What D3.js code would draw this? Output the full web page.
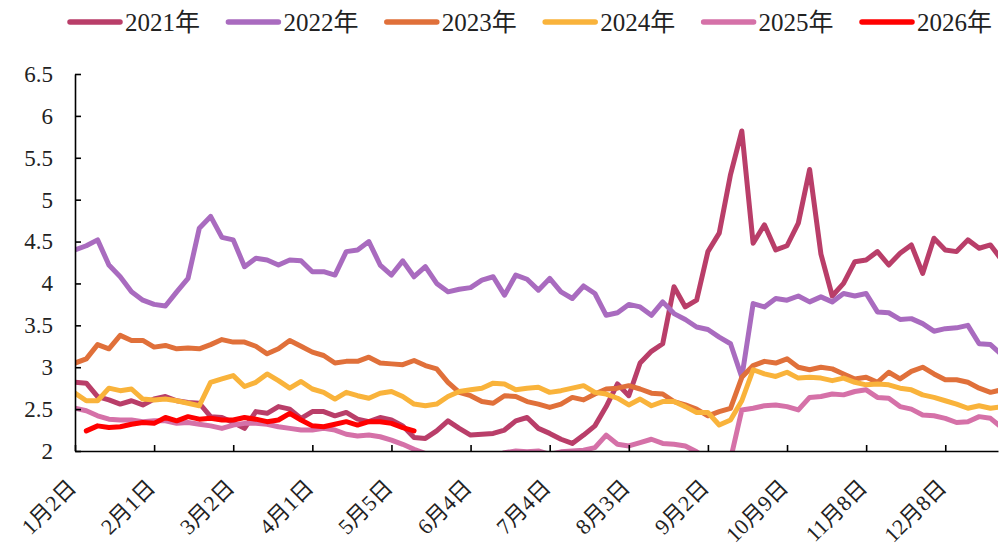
<!DOCTYPE html>
<html>
<head>
<meta charset="utf-8">
<script src="https://cdn.jsdelivr.net/npm/d3@7/dist/d3.min.js"></script>
<style>
  html, body { margin: 0; padding: 0; background: #ffffff; }
  #chart { width: 1002px; height: 550px; }
</style>
</head>
<body>
<div id="chart"></div>
<script>
// one value every `step` trading days, index 0 = 1月2日
const step = 3;
const totalDays = 245;

const tickDays = [0, 21, 42, 63, 84, 105, 126, 147, 168, 189, 210, 231];
const tickLabels = ["1月2日", "2月1日", "3月2日", "4月1日", "5月5日", "6月4日",
  "7月4日", "8月3日", "9月2日", "10月9日", "11月8日", "12月8日"];

const yTicks = [2, 2.5, 3, 3.5, 4, 4.5, 5, 5.5, 6, 6.5];

const seriesNames = ["2021年", "2022年", "2023年", "2024年", "2025年", "2026年"];
const seriesColors = ["#b93e69", "#a96bbf", "#e0703a", "#f9b33b", "#d571a8", "#ff0000"];

const v2021 = [
  2.82, 2.81, 2.65, 2.61, 2.56, 2.60, 2.55, 2.62, 2.65, 2.60,
  2.58, 2.57, 2.41, 2.40, 2.34, 2.27, 2.47, 2.45, 2.53, 2.50,
  2.39, 2.47, 2.47, 2.42, 2.46, 2.38, 2.35, 2.40, 2.37, 2.30,
  2.16, 2.15, 2.24, 2.36, 2.27, 2.19, 2.20, 2.21, 2.25, 2.36,
  2.40, 2.27, 2.21, 2.14, 2.09, 2.19, 2.30, 2.53, 2.80, 2.66,
  3.05, 3.19, 3.28, 3.96, 3.72, 3.80, 4.38, 4.60, 5.30, 5.82,
  4.48, 4.70, 4.40, 4.45, 4.72, 5.36, 4.35, 3.85, 4.00, 4.26,
  4.28, 4.38, 4.22, 4.36, 4.46, 4.12, 4.54, 4.40, 4.38, 4.52,
  4.42, 4.46, 4.28
];
const v2022 = [
  4.40, 4.45, 4.52, 4.22, 4.08, 3.90, 3.80, 3.75, 3.73, 3.90,
  4.06, 4.66, 4.80, 4.55, 4.52, 4.20, 4.30, 4.28, 4.22, 4.28,
  4.27, 4.14, 4.14, 4.10, 4.38, 4.40, 4.50, 4.22, 4.10, 4.27,
  4.08, 4.20, 4.00, 3.90, 3.93, 3.95, 4.04, 4.08, 3.86, 4.10,
  4.05, 3.92, 4.06, 3.90, 3.82, 3.97, 3.88, 3.62, 3.65, 3.75,
  3.72, 3.62, 3.78, 3.64, 3.57, 3.48, 3.45, 3.36, 3.28, 2.88,
  3.76, 3.72, 3.82, 3.80, 3.85, 3.78, 3.84, 3.78, 3.88, 3.85,
  3.88, 3.66, 3.65, 3.57, 3.58, 3.52, 3.43, 3.46, 3.47, 3.50,
  3.28, 3.27, 3.15
];
const v2023 = [
  3.05, 3.10, 3.27, 3.22, 3.38, 3.32, 3.32, 3.24, 3.26, 3.22,
  3.23, 3.22, 3.27, 3.33, 3.30, 3.30, 3.25, 3.16, 3.22, 3.32,
  3.25, 3.18, 3.14, 3.05, 3.07, 3.07, 3.12, 3.05, 3.04, 3.03,
  3.08, 3.02, 2.98, 2.82, 2.70, 2.66, 2.59, 2.57, 2.66, 2.65,
  2.59, 2.56, 2.52, 2.56, 2.64, 2.61, 2.68, 2.74, 2.75, 2.78,
  2.74, 2.69, 2.68, 2.59, 2.55, 2.50, 2.42, 2.47, 2.51, 2.88,
  3.02, 3.07, 3.05, 3.10, 3.00, 2.97, 3.00, 2.98, 2.92, 2.86,
  2.88, 2.82, 2.94, 2.86, 2.95, 3.00, 2.92, 2.85, 2.85, 2.82,
  2.75, 2.70, 2.73
];
const v2024 = [
  2.69, 2.60, 2.60, 2.75, 2.72, 2.74, 2.62, 2.61, 2.62, 2.60,
  2.57, 2.54, 2.82, 2.86, 2.90, 2.77, 2.82, 2.92, 2.84, 2.75,
  2.83, 2.74, 2.70, 2.62, 2.70, 2.66, 2.63, 2.69, 2.71, 2.65,
  2.56, 2.54, 2.56, 2.65, 2.71, 2.73, 2.75, 2.81, 2.80, 2.73,
  2.75, 2.76, 2.70, 2.72, 2.75, 2.78, 2.70, 2.68, 2.63, 2.55,
  2.62, 2.54, 2.59, 2.59, 2.53, 2.46, 2.46, 2.31, 2.37, 2.60,
  2.97, 2.92, 2.89, 2.94, 2.87, 2.88, 2.87, 2.84, 2.87, 2.82,
  2.79, 2.80, 2.79, 2.75, 2.73, 2.67, 2.64, 2.60, 2.56, 2.51,
  2.54, 2.51, 2.53
];
const v2025 = [
  2.51, 2.48, 2.42, 2.38, 2.37, 2.37, 2.35, 2.36, 2.36, 2.33,
  2.34, 2.32, 2.30, 2.27, 2.31, 2.33, 2.33, 2.32, 2.29, 2.27,
  2.25, 2.25, 2.27, 2.25, 2.20, 2.18, 2.19, 2.17, 2.13, 2.08,
  2.02, 1.97, 1.93, 1.90, 1.88, 1.90, 1.92, 1.93, 1.98, 2.00,
  1.99, 2.00, 1.96, 1.99, 2.00, 2.01, 2.04, 2.19, 2.08, 2.06,
  2.10, 2.14, 2.09, 2.08, 2.06, 1.99, 1.90, 1.88, 1.90, 2.49,
  2.51, 2.54, 2.55, 2.53, 2.49, 2.64, 2.65, 2.68, 2.67, 2.71,
  2.73, 2.64, 2.63, 2.53, 2.50, 2.43, 2.42, 2.39, 2.34, 2.35,
  2.41, 2.39, 2.28
];
const v2026 = [
  null, 2.24, 2.30, 2.28, 2.29, 2.32, 2.34, 2.33, 2.40, 2.36,
  2.41, 2.38, 2.39, 2.37, 2.37, 2.40, 2.38, 2.35, 2.37, 2.45,
  2.37, 2.30, 2.29, 2.32, 2.35, 2.31, 2.35, 2.35, 2.33, 2.28,
  2.24
];

const seriesValues = [v2021, v2022, v2023, v2024, v2025, v2026];

function drawChart(containerSelector) {
  const container = d3.select(containerSelector);
  const width = 1002;
  const height = 550;
  const margin = { top: 74, right: 2, bottom: 99, left: 75 };
  const fontSerif =
    "'Liberation Serif', 'Times New Roman', Times, 'DejaVu Serif', 'Noto Sans CJK SC', serif";

  const svg = container
    .append("svg")
    .attr("width", width)
    .attr("height", height)
    .attr("viewBox", `0 0 ${width} ${height}`)
    .style("background", "#ffffff");

  const x = d3
    .scaleLinear()
    .domain([0, totalDays])
    .range([margin.left, width - margin.right - 2]);

  const y = d3
    .scaleLinear()
    .domain([2, 6.5])
    .range([height - margin.bottom, margin.top]);

  svg
    .append("defs")
    .append("clipPath")
    .attr("id", "plotClip")
    .append("rect")
    .attr("x", x.range()[0])
    .attr("y", y.range()[1] - 10)
    .attr("width", x.range()[1] - x.range()[0])
    .attr("height", y.range()[0] - y.range()[1] + 10);

  const line = d3
    .line()
    .defined((d) => d != null)
    .x((d, i) => x(i * step))
    .y((d) => y(d));

  svg
    .append("g")
    .attr("clip-path", "url(#plotClip)")
    .selectAll("path")
    .data(seriesValues)
    .join("path")
    .attr("d", line)
    .attr("fill", "none")
    .attr("stroke", (d, i) => seriesColors[i])
    .attr("stroke-width", 5)
    .attr("stroke-linejoin", "round")
    .attr("stroke-linecap", "round");

  // ejes
  const yG = svg
    .append("g")
    .attr("transform", `translate(${x.range()[0]},0)`)
    .call(
      d3
        .axisLeft(y)
        .tickValues(yTicks)
        .tickSize(-6)
        .tickSizeOuter(0)
        .tickPadding(22)
        .tickFormat((d) => String(d)),
    );

  yG.selectAll("text")
    .style("font-family", fontSerif)
    .style("font-size", "23px")
    .attr("fill", "#222222");

  const xG = svg
    .append("g")
    .attr("transform", `translate(0,${y.range()[0]})`)
    .call(
      d3
        .axisBottom(x)
        .tickValues(tickDays)
        .tickSize(-6)
        .tickSizeOuter(0)
        .tickFormat((d, i) => tickLabels[i]),
    );

  xG.selectAll("text")
    .style("font-family", fontSerif)
    .style("font-size", "22px")
    .attr("fill", "#222222")
    .attr("text-anchor", "end")
    .attr("x", 0)
    .attr("y", 0)
    .attr("dy", 0)
    .attr("transform", "translate(2,38) rotate(-45)");

  svg.selectAll(".domain, .tick line")
    .attr("stroke", "#000000")
    .attr("stroke-width", 1.6);

  // leyenda
  const item = svg
    .append("g")
    .attr("transform", "translate(67,0)")
    .selectAll("g")
    .data(seriesNames)
    .join("g")
    .attr("transform", (d, i) => `translate(${i * 158.4},0)`);

  item
    .append("line")
    .attr("x1", 3)
    .attr("x2", 53)
    .attr("y1", 22)
    .attr("y2", 22)
    .attr("stroke", (d, i) => seriesColors[i])
    .attr("stroke-width", 5.5)
    .attr("stroke-linecap", "round");

  item
    .append("text")
    .attr("x", 58)
    .attr("y", 31)
    .style("font-family", fontSerif)
    .style("font-size", "25px")
    .attr("fill", "#222222")
    .text((d) => d);
}

drawChart("#chart");
</script>
</body>
</html>
